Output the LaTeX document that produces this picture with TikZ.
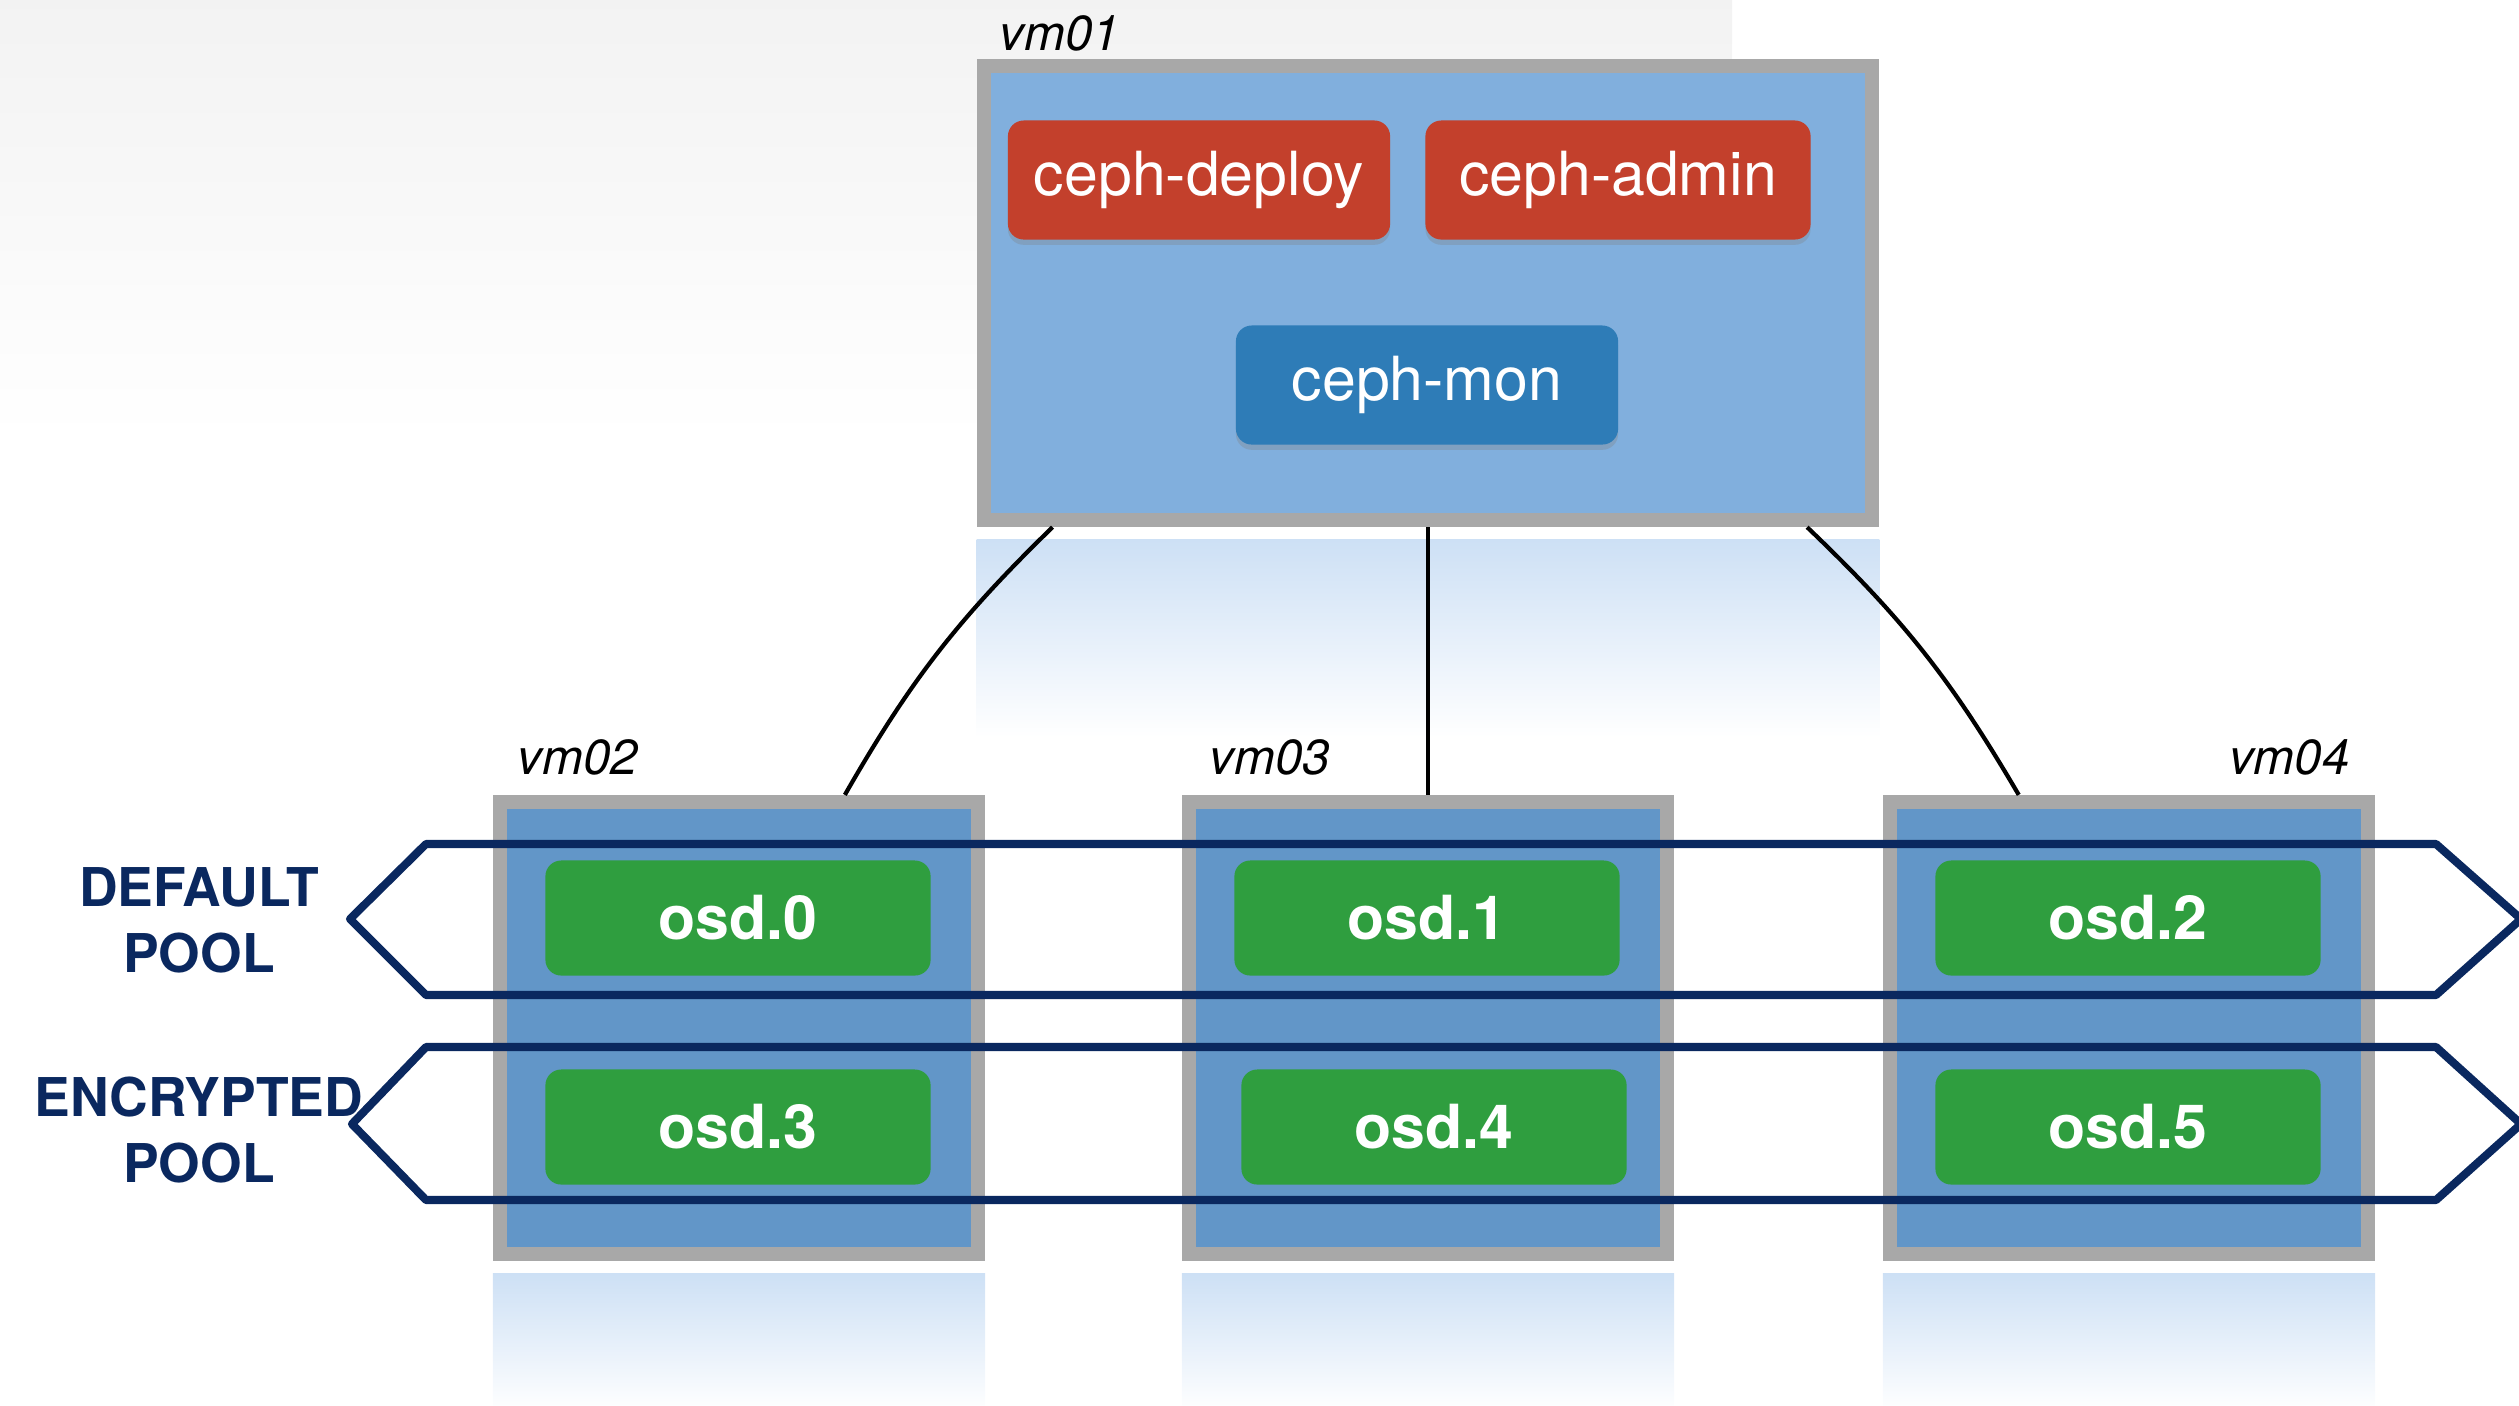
\documentclass[tikz,border=0pt]{standalone}
\usepackage{fontspec}
\setmainfont{TeX Gyre Heros}
\usetikzlibrary{positioning,calc,shadows}
\definecolor{vmlight}{RGB}{129,175,221}
\definecolor{vmdark}{RGB}{98,150,200}
\definecolor{vmedge}{RGB}{168,168,168}
\definecolor{svcred}{RGB}{195,64,44}
\definecolor{monblue}{RGB}{46,124,183}
\definecolor{osdgreen}{RGB}{47,158,63}
\definecolor{poolnavy}{RGB}{10,40,95}
\definecolor{reflblue}{RGB}{205,224,245}

\begin{document}
\begin{tikzpicture}[
    x=0.01cm, y=-0.01cm,
    vm/.style={rectangle, draw=vmedge, line width=4pt, fill=vmdark, minimum width=4.78cm, minimum height=4.52cm},
    vmlabel/.style={inner sep=0pt, font=\fontsize{14}{16}\selectfont\itshape},
    svc/.style={rectangle, rounded corners=4.5pt, minimum width=3.82cm, minimum height=1.19cm, text=white, font=\fontsize{17.3}{20}\selectfont, drop shadow={opacity=0.3, shadow xshift=0pt, shadow yshift=-1.5pt}},
    osd/.style={rectangle, rounded corners=4.5pt, fill=osdgreen, minimum width=3.85cm, minimum height=1.15cm, text=white, font=\fontsize{17.3}{20}\selectfont\bfseries},
    pool/.style={draw=poolnavy, line width=2.3pt, line join=round},
    poollabel/.style={align=center, text=poolnavy, font=\fontsize{15.2}{18.8}\selectfont\bfseries},
    link/.style={draw=black, line width=1.2pt},
    refl/.style={top color=reflblue, bottom color=white},
]
    \useasboundingbox (0,0) rectangle (2519,1405);
    \shade[top color=gray!10, middle color=gray!16, bottom color=white] (0,0) rectangle (1732,440);

    \node[vm, fill=vmlight, minimum width=8.88cm, minimum height=4.54cm] (vm01) at (1428,293) {};
    \node[vm] (vm02) at (739,1028) {};
    \node[vm] (vm03) at (1428,1028) {};
    \node[vm] (vm04) at (2129,1028) {};

    \shade[refl] ([yshift=-0.12cm]vm01.south west) rectangle ([yshift=-2.1cm]vm01.south east);
    \foreach \v in {vm02,vm03,vm04}
        \shade[refl] ([yshift=-0.12cm]\v.south west) rectangle ([yshift=-1.5cm]\v.south east);

    \node[vmlabel, above right=0.07cm and 0.22cm of vm01.north west] (vm01lbl) {vm01};
    \node[vmlabel, above right=0.19cm and 0.24cm of vm02.north west] (vm02lbl) {vm02};
    \node[vmlabel, above right=0.19cm and 0.27cm of vm03.north west] (vm03lbl) {vm03};
    \node[vmlabel, above left=0.19cm and 0.25cm of vm04.north east] (vm04lbl) {vm04};

    \node[svc, fill=svcred] (deploy) at (1199,180) {ceph-deploy};
    \node[svc, fill=svcred, minimum width=3.85cm] (admin) at (1618,180) {ceph-admin};
    \node[svc, fill=monblue] (mon) at (1427,385) {ceph-mon};

    \draw[pool] (426,844) -- (2436,844) -- (2521,919) -- (2436,995) -- (426,995) -- (350,919) -- cycle;
    \draw[pool] (426,1047) -- (2436,1047) -- (2521,1124) -- (2436,1200) -- (426,1200) -- (352,1124) -- cycle;

    \node[poollabel] (defaultlbl) at (199,920) {DEFAULT\\POOL};
    \node[poollabel] (encryptlbl) at (199,1130) {ENCRYPTED\\POOL};

    \node[osd] (osd0) at (738,918) {osd.0};
    \node[osd] (osd1) at (1427,918) {osd.1};
    \node[osd] (osd2) at (2128,918) {osd.2};
    \node[osd] (osd3) at (738,1127) {osd.3};
    \node[osd] (osd4) at (1434,1127) {osd.4};
    \node[osd] (osd5) at (2128,1127) {osd.5};

    \draw[link] ($(vm01.south west)!0.084!(vm01.south east)$) to[bend right=8] ($(vm02.north west)!0.715!(vm02.north east)$);
    \draw[link] (vm01.south) -- (vm03.north);
    \draw[link] ($(vm01.south west)!0.92!(vm01.south east)$) to[bend left=8] ($(vm04.north west)!0.276!(vm04.north east)$);
\end{tikzpicture}
\end{document}
